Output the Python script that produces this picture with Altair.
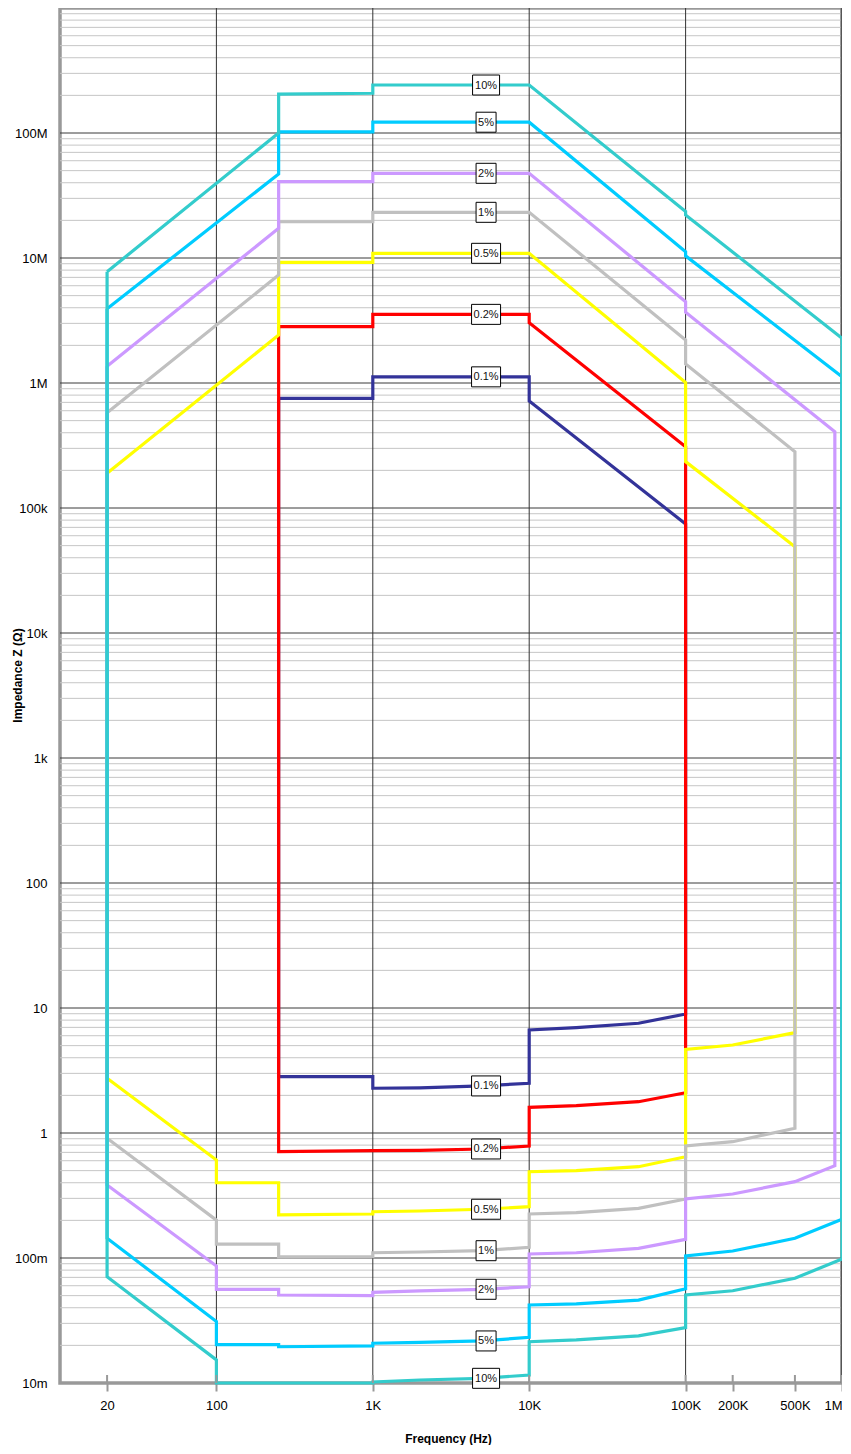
import json
import altair as alt
import pandas as pd

# ---------------- data ----------------
levels = ["0.1%", "0.2%", "0.5%", "1%", "2%", "5%", "10%"]
colors = ["#333399", "#FF0000", "#FFFF00", "#C0C0C0", "#CC99FF", "#00CCFF", "#33CCCC"]

f_01 = [250, 1000, 1000, 10000, 10000, 100000, 100000, 50000, 20000, 10000, 10000, 5000, 2000, 1000, 1000, 250, 250]
z_01 = [7.54e5, 7.54e5, 1.12e6, 1.12e6, 7.18e5, 7.45e4, 8.95, 7.55, 6.96, 6.67, 2.50, 2.38, 2.30, 2.28, 2.83, 2.82, 7.54e5]

f_02 = [250, 1000, 1000, 10000, 10000, 100000, 100000, 50000, 20000, 10000, 10000, 5000, 2000, 1000, 250, 250]
z_02 = [2.82e6, 2.82e6, 3.54e6, 3.54e6, 3.04e6, 3.09e5, 2.10, 1.78, 1.654, 1.606, 0.787, 0.745, 0.725, 0.722, 0.71, 2.82e6]

f_05 = [20, 250, 250, 1000, 1000, 10000, 100000, 100000, 500000, 500000, 200000, 100000, 100000, 50000, 20000, 10000, 10000, 5000, 2000, 1000, 1000, 250, 250, 100, 100, 20, 20]
z_05 = [1.9e5, 2.42e6, 9.24e6, 9.24e6, 1.09e7, 1.09e7, 1.01e6, 2.35e5, 4.9e4, 6.35, 5.06, 4.67, 0.646, 0.5376, 0.4994, 0.490, 0.2572, 0.2455, 0.2377, 0.2346, 0.225, 0.221, 0.400, 0.400, 0.608, 2.74, 1.9e5]

f_1 = [20, 250, 250, 1000, 1000, 10000, 100000, 100000, 500000, 500000, 200000, 100000, 100000, 50000, 20000, 10000, 10000, 5000, 2000, 1000, 1000, 250, 250, 100, 100, 20, 20]
z_1 = [5.78e5, 7.3e6, 1.95e7, 1.95e7, 2.32e7, 2.32e7, 2.21e6, 1.42e6, 2.82e5, 1.09, 0.852, 0.787, 0.2965, 0.2497, 0.2304, 0.2249, 0.1219, 0.1144, 0.1117, 0.1102, 0.1024, 0.102, 0.129, 0.129, 0.201, 0.907, 5.78e5]

f_2 = [20, 250, 250, 1000, 1000, 10000, 100000, 100000, 900000, 900000, 500000, 200000, 100000, 100000, 50000, 20000, 10000, 10000, 5000, 2000, 1000, 1000, 250, 250, 100, 100, 20, 20]
z_2 = [1.36e6, 1.73e7, 4.08e7, 4.08e7, 4.76e7, 4.76e7, 4.47e6, 3.68e6, 4.08e5, 0.548, 0.408, 0.325, 0.2965, 0.1411, 0.1195, 0.1102, 0.1076, 0.0589, 0.0562, 0.0545, 0.0531, 0.0500, 0.0506, 0.0562, 0.0562, 0.0863, 0.384, 1.36e6]

f_5 = [20, 250, 250, 1000, 1000, 10000, 100000, 100000, 1000000, 1000000, 500000, 200000, 100000, 100000, 50000, 20000, 10000, 10000, 5000, 2000, 1000, 1000, 250, 250, 100, 100, 20, 20]
z_5 = [3.92e6, 4.70e7, 1.02e8, 1.02e8, 1.22e8, 1.22e8, 1.12e7, 1.04e7, 1.12e6, 0.204, 0.1437, 0.1138, 0.1038, 0.0567, 0.0461, 0.0429, 0.0421, 0.0232, 0.0217, 0.0211, 0.0208, 0.0198, 0.0195, 0.0203, 0.0203, 0.031, 0.144, 3.92e6]

f_10 = [20, 250, 250, 1000, 1000, 10000, 100000, 100000, 1000000, 1000000, 500000, 200000, 100000, 100000, 50000, 20000, 10000, 10000, 5000, 2000, 1000, 1000, 250, 100, 100, 20, 20]
z_10 = [7.77e6, 1.0e8, 2.05e8, 2.08e8, 2.42e8, 2.42e8, 2.35e7, 2.21e7, 2.28e6, 0.0982, 0.0688, 0.0547, 0.0506, 0.0277, 0.0238, 0.0221, 0.0214, 0.01159, 0.0109, 0.01057, 0.0102, 0.0100, 0.0100, 0.0100, 0.0153, 0.0709, 7.77e6]

series_f = [f_01, f_02, f_05, f_1, f_2, f_5, f_10]
series_z = [z_01, z_02, z_05, z_1, z_2, z_5, z_10]

label_text = ["10%", "5%", "2%", "1%", "0.5%", "0.2%", "0.1%",
              "0.1%", "0.2%", "0.5%", "1%", "2%", "5%", "10%"]
label_freq = [5300] * 14
label_z = [2.42e8, 1.22e8, 4.76e7, 2.32e7, 1.09e7, 3.54e6, 1.12e6,
           2.38, 0.745, 0.2455, 0.1144, 0.0562, 0.0217, 0.0109]

x_tick_values = [20, 100, 1000, 10000, 100000, 200000, 500000, 1000000]
x_tick_labels = ["20", "100", "1K", "10K", "100K", "200K", "500K", "1M"]
y_tick_values = [0.01, 0.1, 1, 10, 100, 1000, 10000, 100000, 1000000, 10000000, 100000000]
y_tick_labels = ["10m", "100m", "1", "10", "100", "1k", "10k", "100k", "1M", "10M", "100M"]
x_grid_values = [100, 1000, 10000, 100000]

# ---------------- chart ----------------
W, H = 782, 1375
FONT = "Liberation Sans"
xs = alt.Scale(type="log", domain=[10, 1e6], nice=False)
ys = alt.Scale(type="log", domain=[0.01, 1e9], nice=False)

x_axis = alt.Axis(
    values=x_tick_values,
    labelExpr=f"{json.dumps(x_tick_labels)}[indexof({json.dumps(x_tick_values)}, datum.value)]",
    grid=False, domain=False, ticks=True, tickSize=8, tickColor="#999999", tickWidth=2,
    labelFontSize=13, labelColor="#000000", labelPadding=8, labelFont=FONT,
    title="Frequency (Hz)", titleFont=FONT, titleFontSize=12, titleFontWeight="bold",
    titleColor="#000000", titleX=388, titleY=55, titleBaseline="middle", titleAlign="center",
)
y_axis = alt.Axis(
    values=y_tick_values,
    labelExpr=f"{json.dumps(y_tick_labels)}[round(log(datum.value)/LN10)+2]",
    grid=False, domain=False, ticks=False, tickSize=0,
    labelFontSize=13, labelColor="#000000", labelPadding=13, labelFont=FONT,
    title="Impedance Z (Ω)", titleFont=FONT, titleFontSize=12, titleFontWeight="bold",
    titleColor="#000000", titleX=-43, titleY=667, titleBaseline="middle", titleAlign="center",
    titleAngle=-90,
)

minor_vals = [m * 10.0 ** e for e in range(-2, 9) for m in range(2, 10)]
major_vals = [10.0 ** e for e in range(-1, 9)]

minor = alt.Chart(pd.DataFrame({"z": minor_vals})).mark_rule(
    color="#c6c6c6", strokeWidth=1).encode(y=alt.Y("z:Q", scale=ys, axis=y_axis))
major = alt.Chart(pd.DataFrame({"z": major_vals})).mark_rule(
    color="#3a3a3a", strokeWidth=1).encode(y=alt.Y("z:Q", scale=ys, axis=y_axis))
vgrid = alt.Chart(pd.DataFrame({"f": x_grid_values})).mark_rule(
    color="#333333", strokeWidth=1).encode(x=alt.X("f:Q", scale=xs, axis=x_axis))
right_border = alt.Chart(pd.DataFrame({"f": [1e6]})).mark_rule(
    color="#555555", strokeWidth=2.5).encode(x=alt.X("f:Q", scale=xs, axis=x_axis))

line_layers = []
for lev, col, fs, zs in zip(levels, colors, series_f, series_z):
    df = pd.DataFrame({"f": fs, "z": zs, "i": list(range(len(fs)))})
    line_layers.append(
        alt.Chart(df).mark_line(color=col, strokeWidth=3.2, strokeJoin="miter").encode(
            x=alt.X("f:Q", scale=xs, axis=x_axis),
            y=alt.Y("z:Q", scale=ys, axis=y_axis),
            order="i:Q",
        )
    )

inner_ticks = alt.Chart(pd.DataFrame({"f": x_tick_values})).mark_rule(
    color="#999999", strokeWidth=2).encode(
    x=alt.X("f:Q", scale=xs, axis=x_axis), y=alt.value(H - 8), y2=alt.value(H))

lab = pd.DataFrame({"t": label_text, "f": label_freq, "z": label_z})
lab["shape"] = [
    (lambda w: f"M{-w/2},-10L{w/2},-10L{w/2},10L{-w/2},10Z")(6 + 7 * len(t) - 5 * t.count("."))
    for t in label_text
]
boxes = alt.Chart(lab).mark_point(
    filled=True, fill="white", stroke="black", strokeWidth=1, opacity=1, size=4
).encode(
    x=alt.X("f:Q", scale=xs, axis=x_axis),
    y=alt.Y("z:Q", scale=ys, axis=y_axis),
    shape=alt.Shape("shape:N", scale=None),
)
texts = alt.Chart(lab).mark_text(
    fontSize=11, font=FONT, color="#111111", align="center", baseline="middle", dy=0.5
).encode(
    x=alt.X("f:Q", scale=xs, axis=x_axis),
    y=alt.Y("z:Q", scale=ys, axis=y_axis),
    text="t:N",
)

chart = alt.layer(minor, major, vgrid, right_border, *line_layers, inner_ticks, boxes, texts).properties(
    width=W, height=H, autosize="none",
    padding={"left": 52, "top": 0, "right": 0, "bottom": 62},
).configure(font=FONT).configure_view(stroke="#999999", strokeWidth=3.5)

chart.save("out.html", embed_options={"renderer": "svg", "actions": False})
